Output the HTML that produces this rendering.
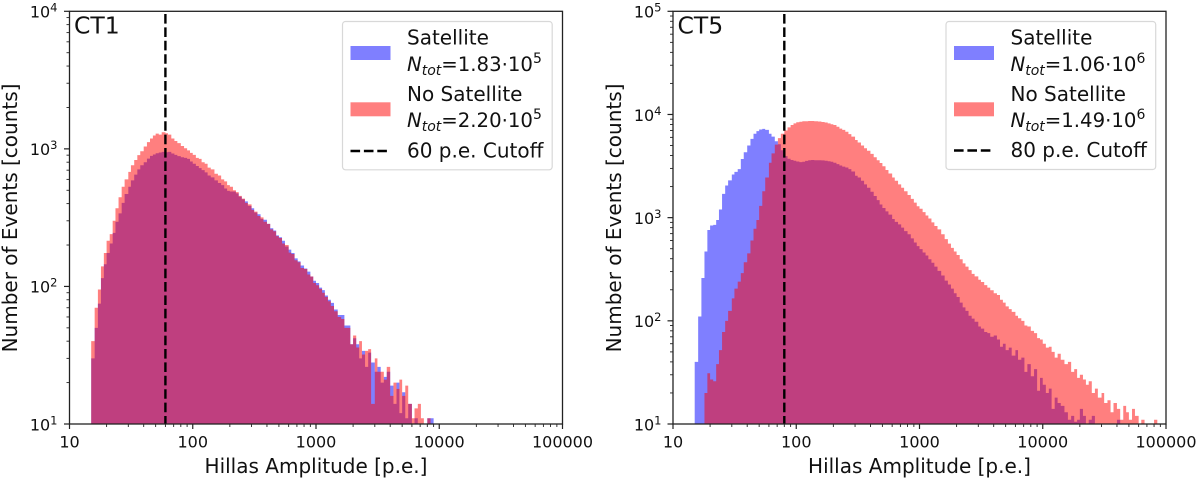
<!DOCTYPE html>
<html lang="en">
<head>
<meta charset="utf-8">
<title>Hillas Amplitude Histograms</title>
<style>
html,body{margin:0;padding:0;background:#fff;width:1200px;height:480px;overflow:hidden}
svg{display:block;filter:blur(0.35px)}
text{font-family:"DejaVu Sans","Liberation Sans",sans-serif;fill:#111}
.lg{font-size:20px}
.lm{font-size:19.7px}
.it{font-style:italic}
.tk{font-size:16px}
.ax{font-size:20px}
.ttl{font-size:23.5px}
</style>
</head>
<body>
<svg id="fig" xmlns="http://www.w3.org/2000/svg" width="1200" height="480" viewBox="0 0 1200 480">
  <rect width="1200" height="480" fill="#fff"/>

  <g id="ct1">
    <g id="ct1-bars"></g>
    <line id="ct1-cut" y1="14" y2="424" stroke="#000" stroke-width="2.4" stroke-dasharray="9.6 3.8"/>
    <rect x="69.5" y="11.3" width="493" height="412.7" fill="none" stroke="#222" stroke-width="1.3"/>
    <g id="ct1-ticks"></g>
    <text class="ttl" x="74" y="33.5">CT1</text>
    <text class="ax" x="316" y="473" text-anchor="middle">Hillas Amplitude [p.e.]</text>
    <text class="ax" transform="translate(17,218) rotate(-90)" text-anchor="middle">Number of Events [counts]</text>
    <g>
      <rect x="342.5" y="21.5" width="209.7" height="148.3" rx="3" fill="#fff" fill-opacity="0.8" stroke="#d8d8d8" stroke-width="1.2"/>
      <rect x="350.5" y="46" width="40" height="14" fill="#00f" fill-opacity="0.5"/>
      <rect x="350.5" y="102.3" width="40" height="14" fill="#f00" fill-opacity="0.5"/>
      <line x1="350.5" x2="390.5" y1="151" y2="151" stroke="#000" stroke-width="2.4" stroke-dasharray="9.6 3.8"/>
      <text class="lg" x="407" y="44.5">Satellite</text>
      <text class="lm" x="407" y="71"><tspan class="it">N</tspan><tspan class="it" font-size="14" dy="4">tot</tspan><tspan dy="-4">=1.83·10</tspan><tspan font-size="14" dy="-8">5</tspan></text>
      <text class="lg" x="407" y="101">No Satellite</text>
      <text class="lm" x="407" y="127"><tspan class="it">N</tspan><tspan class="it" font-size="14" dy="4">tot</tspan><tspan dy="-4">=2.20·10</tspan><tspan font-size="14" dy="-8">5</tspan></text>
      <text class="lg" x="407" y="157.5">60 p.e. Cutoff</text>
    </g>
  </g>

  <g id="ct5">
    <g id="ct5-bars"></g>
    <line id="ct5-cut" y1="14" y2="424" stroke="#000" stroke-width="2.4" stroke-dasharray="9.6 3.8"/>
    <rect x="673" y="11.3" width="493" height="412.7" fill="none" stroke="#222" stroke-width="1.3"/>
    <g id="ct5-ticks"></g>
    <text class="ttl" x="677.5" y="33.5">CT5</text>
    <text class="ax" x="919.5" y="473" text-anchor="middle">Hillas Amplitude [p.e.]</text>
    <text class="ax" transform="translate(621,218) rotate(-90)" text-anchor="middle">Number of Events [counts]</text>
    <g>
      <rect x="946" y="21.5" width="209.7" height="148" rx="3" fill="#fff" fill-opacity="0.8" stroke="#d8d8d8" stroke-width="1.2"/>
      <rect x="954" y="46" width="40" height="14" fill="#00f" fill-opacity="0.5"/>
      <rect x="954" y="102.3" width="40" height="14" fill="#f00" fill-opacity="0.5"/>
      <line x1="954" x2="994" y1="150.5" y2="150.5" stroke="#000" stroke-width="2.4" stroke-dasharray="9.6 3.8"/>
      <text class="lg" x="1010.5" y="44.5">Satellite</text>
      <text class="lm" x="1010.5" y="71"><tspan class="it">N</tspan><tspan class="it" font-size="14" dy="4">tot</tspan><tspan dy="-4">=1.06·10</tspan><tspan font-size="14" dy="-8">6</tspan></text>
      <text class="lg" x="1010.5" y="101">No Satellite</text>
      <text class="lm" x="1010.5" y="127"><tspan class="it">N</tspan><tspan class="it" font-size="14" dy="4">tot</tspan><tspan dy="-4">=1.49·10</tspan><tspan font-size="14" dy="-8">6</tspan></text>
      <text class="lg" x="1010.5" y="157">80 p.e. Cutoff</text>
    </g>
  </g>
</svg>

<script>
// Histogram bin edges in p.e. (shared by both panels)
const binEdges = [
  15,16,17,18,19,20,21.2,22.4,23.6,25,26.5,28,30,31.5,33.5,35.5,37.5,40,42.5,45,47.5,50,53,56,60,63,67,71,75,80,85,90,95,
  100,106,112,118,125,132,140,150,160,170,180,190,200,212,224,236,250,265,280,300,315,335,355,375,400,425,450,475,500,530,560,600,630,670,710,750,800,850,900,950,
  1000,1060,1120,1180,1250,1320,1400,1500,1600,1700,1800,1900,2000,2120,2240,2360,2500,2650,2800,3000,3150,3350,3550,3750,4000,4250,4500,4750,5000,5300,5600,6000,6300,6700,7100,7500,8000,8500,9000,9500,
  10000,10600,11200,11800,12500,13200,14000,15000,16000,17000,18000,19000,20000,21200,22400,23600,25000,26500,28000,30000,31500,33500,35500,37500,40000,42500,45000,47500,50000,53000,56000,60000,63000,67000,71000,75000,80000,85000,90000,95000,100000
];

const ct1Satellite = [
  30,50,75,115,145,175,205,245,295,340,405,470,530,590,650,710,760,800,850,890,910,930,940,950,945,950,925,905,885,870,860,845,810,
  780,750,725,700,675,640,620,590,565,545,515,495,490,490,475,450,430,415,385,370,345,335,310,305,285,265,255,235,228,215,195,185,175,160,152,142,135,128,118,110,
  106,98,94,86,80,76,68,62,62,52,52,38,42,38,30,34,26,33,28,24,26,20,22,24,19,14,20,12,17,11,14,0,11,0,0,0,11,11,0,0
];
const ct1NoSatellite = [
  40,70,95,140,175,215,240,300,370,445,530,600,680,760,830,900,960,1040,1120,1190,1250,1290,1270,1320,1300,1270,1190,1140,1100,1050,1010,975,935,
  905,860,845,800,780,730,710,660,640,600,580,545,530,500,485,455,435,405,395,360,350,325,318,295,285,260,252,232,225,205,200,176,172,155,150,136,134,122,118,106,
  102,96,90,84,78,72,66,60,58,50,50,38,44,36,40,32,34,35,14,30,24,24,21,26,16,20,18,21,16,19,14,11,13,14,11,0,11,0,0,0
];
const ct5Satellite = [
  40,110,260,470,760,840,850,950,1200,1700,2050,2300,2620,2780,2950,3700,4300,5000,5800,6500,6900,7150,7250,7100,6500,6100,5500,5150,4500,3950,3720,3620,3560,
  3500,3450,3480,3550,3600,3620,3600,3600,3590,3560,3520,3480,3400,3300,3200,3120,3060,2950,2800,2550,2450,2280,2100,1950,1780,1620,1480,1340,1240,1150,1070,970,910,860,800,740,690,630,575,530,
  495,460,430,395,365,335,305,275,245,225,205,185,170,150,135,125,112,105,98,88,84,78,76,70,72,66,56,60,52,55,46,52,42,44,32,38,29,34,21,28,
  24,20,22,14,18,16,15,13,11,12,10.5,11,14,12,0,11,12,0,0,0,0,0,0,0,11
];
const ct5NoSatellite = [
  0,0,0,20,31,27,26,38,52,78,100,125,165,205,240,290,370,450,600,780,950,1300,1800,2450,3400,4200,5100,5900,6500,7000,7500,7900,8200,
  8400,8500,8600,8600,8650,8650,8600,8550,8450,8350,8200,8050,7900,7600,7300,7100,6800,6450,6100,5650,5350,5000,4700,4450,4150,3850,3600,3390,3150,2900,2680,2450,2280,2100,1950,1800,1660,1520,1400,1290,
  1220,1130,1050,980,900,830,770,690,620,560,510,470,435,395,360,335,310,285,270,250,238,222,210,198,185,178,160,150,138,130,122,112,106,100,90,88,80,76,68,66,
  60,55,56,50,44,48,42,38,40,32,34,28,30,27,24,26,20,22,18,20,16,17,13,16,14,11,15,13,11,14,12,0,11,0,0,0,11,0,0,0
];

const ct1Cutoff = 60;
const ct5Cutoff = 80;

const xTickValues = [10,100,1000,10000,100000];
const xTickLabels = ['10','100','1000','10000','100000'];
const minorMultipliers = [2,3,4,5,6,7,8,9];
const ct1YExponents = [1,2,3,4];
const ct5YExponents = [1,2,3,4,5];

const SVGNS = 'http://www.w3.org/2000/svg';
const PLOT_TOP = 11.3, PLOT_BOTTOM = 424;

function makeX(left, right) {
  return function (v) { return left + (Math.log10(v) - 1) * (right - left) / 4; };
}
function makeY(maxExp) {
  return function (v) {
    const c = Math.max(v, 10);
    return PLOT_BOTTOM - (Math.log10(c) - 1) * (PLOT_BOTTOM - PLOT_TOP) / (maxExp - 1);
  };
}
function histPath(values, x, y) {
  let d = '';
  for (let i = 0; i < values.length && i + 1 < binEdges.length; i++) {
    if (values[i] <= 10) { continue; }
    const x0 = x(binEdges[i]).toFixed(2);
    const x1 = x(binEdges[i + 1]).toFixed(2);
    const yv = y(values[i]).toFixed(2);
    d += 'M' + x0 + ' ' + PLOT_BOTTOM + 'L' + x0 + ' ' + yv + 'L' + x1 + ' ' + yv + 'L' + x1 + ' ' + PLOT_BOTTOM + 'Z';
  }
  return d;
}
function tickLine(parent, x1, y1, x2, y2, w) {
  const l = document.createElementNS(SVGNS, 'line');
  
  
  l.setAttribute('x1', x1);
  l.setAttribute('y1', y1);
  l.setAttribute('x2', x2);
  l.setAttribute('y2', y2);
  l.setAttribute('stroke', '#222');
  l.setAttribute('stroke-width', w);
  parent.appendChild(l);
}
function drawPanel(id, left, right, maxExp, yExps, blue, red, cutoff, labelRight) {
  const x = makeX(left, right);
  const y = makeY(maxExp);
  const bars = document.getElementById(id + '-bars');

  const bluePath = document.createElementNS(SVGNS, 'path');
  
  
  bluePath.setAttribute('d', histPath(blue, x, y));
  bluePath.setAttribute('fill', '#00f');
  bluePath.setAttribute('fill-opacity', '0.5');
  bars.appendChild(bluePath);

  const redPath = document.createElementNS(SVGNS, 'path');
  
  
  redPath.setAttribute('d', histPath(red, x, y));
  redPath.setAttribute('fill', '#f00');
  redPath.setAttribute('fill-opacity', '0.5');
  bars.appendChild(redPath);

  const cut = document.getElementById(id + '-cut');
  cut.setAttribute('x1', x(cutoff));
  cut.setAttribute('x2', x(cutoff));

  const ticks = document.getElementById(id + '-ticks');
  xTickValues.forEach(function (v, i) {
    const px = x(v);
    tickLine(ticks, px, PLOT_BOTTOM, px, PLOT_BOTTOM + 5, 1.2);
    const t = document.createElementNS(SVGNS, 'text');
    
    
    t.setAttribute('class', 'tk');
    t.setAttribute('x', px);
    t.setAttribute('y', 447.5);
    t.setAttribute('text-anchor', 'middle');
    t.textContent = xTickLabels[i];
    ticks.appendChild(t);
    if (v < 100000) {
      minorMultipliers.forEach(function (m) {
        const mx = x(v * m);
        tickLine(ticks, mx, PLOT_BOTTOM, mx, PLOT_BOTTOM + 3, 0.9);
      });
    }
  });
  yExps.forEach(function (e) {
    const v = Math.pow(10, e);
    const py = y(v);
    tickLine(ticks, left - 5.5, py, left, py, 1.2);
    const t = document.createElementNS(SVGNS, 'text');
    
    
    t.setAttribute('class', 'tk');
    t.setAttribute('x', labelRight);
    t.setAttribute('y', py + 6.3);
    t.setAttribute('text-anchor', 'end');
    const base = document.createElementNS(SVGNS, 'tspan');
    base.textContent = '10';
    t.appendChild(base);
    const sup = document.createElementNS(SVGNS, 'tspan');
    sup.setAttribute('font-size', '11.5');
    sup.setAttribute('dy', '-6');
    sup.textContent = String(e);
    t.appendChild(sup);
    ticks.appendChild(t);
    if (e < maxExp) {
      minorMultipliers.forEach(function (m) {
        const my = y(v * m);
        tickLine(ticks, left - 3, my, left, my, 0.9);
      });
    }
  });
}
drawPanel('ct1', 69.5, 562.5, 4, ct1YExponents, ct1Satellite, ct1NoSatellite, ct1Cutoff, 57.5);
drawPanel('ct5', 673, 1166, 5, ct5YExponents, ct5Satellite, ct5NoSatellite, ct5Cutoff, 661.5);
</script>
</body>
</html>
